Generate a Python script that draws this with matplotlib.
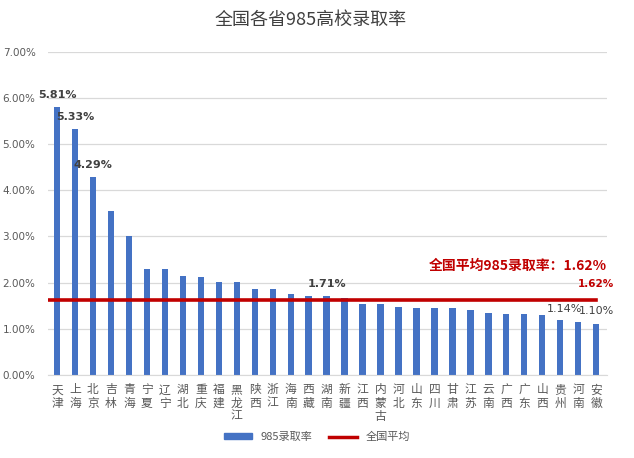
import matplotlib
matplotlib.use("Agg")
import matplotlib.pyplot as plt
from matplotlib.patches import Patch
from matplotlib.lines import Line2D

plt.rcParams['font.family'] = ['Noto Sans CJK SC', 'DejaVu Sans']

provinces = ["天津", "上海", "北京", "吉林", "青海", "宁夏", "辽宁", "湖北", "重庆", "福建",
             "黑龙江", "陕西", "浙江", "海南", "西藏", "湖南", "新疆", "江西", "内蒙古", "河北",
             "山东", "四川", "甘肃", "江苏", "云南", "广西", "广东", "山西", "贵州", "河南", "安徽"]
rates = [5.81, 5.33, 4.29, 3.56, 3.01, 2.30, 2.29, 2.14, 2.12, 2.01,
         2.01, 1.87, 1.87, 1.75, 1.72, 1.71, 1.67, 1.54, 1.53, 1.48,
         1.46, 1.46, 1.46, 1.41, 1.35, 1.33, 1.32, 1.29, 1.19, 1.14, 1.10]
national_avg = 1.62
yticks = [0, 1, 2, 3, 4, 5, 6, 7]

labeled_bold = {"天津": 5.81, "上海": 5.33, "北京": 4.29, "湖南": 1.71}
labeled_plain = {"河南": 1.14, "安徽": 1.10}

blue = "#4472C4"
red = "#C00000"
gray = "#595959"

fig = plt.figure(figsize=(6.34, 4.58), dpi=100)
ax = fig.add_axes([48/634, 1-375/458, (607-48)/634, (375-51.7)/458])

x = list(range(len(provinces)))
ax.bar(x, rates, width=0.35, color=blue, zorder=2)
ax.plot([-0.5, len(provinces)-1], [national_avg, national_avg], color=red, lw=2.6, zorder=3)

ax.set_ylim(0, 7)
ax.set_xlim(-0.5, len(provinces)-0.4)
ax.set_yticks(yticks)
ax.set_yticklabels([f"{v:.2f}%" for v in yticks], fontsize=7.5, color=gray, family=['DejaVu Sans'])
ax.yaxis.grid(True, color="#D9D9D9", lw=0.9, zorder=0)
ax.set_axisbelow(True)
ax.set_xticks(x)
ax.set_xticklabels(["\n".join(p) for p in provinces], fontsize=8.5, color=gray, linespacing=1.02, va='top')
ax.tick_params(axis='x', length=0, pad=6)
ax.tick_params(axis='y', length=0, pad=9)
for s in ["top", "right", "left"]:
    ax.spines[s].set_visible(False)
ax.spines["bottom"].set_color("#D9D9D9")

for i, (p, v) in enumerate(zip(provinces, rates)):
    if p in labeled_bold:
        ax.annotate(f"{v:.2f}%", (i, v), xytext=(0, 5), textcoords="offset points",
                    ha="center", va="bottom", fontsize=8, fontweight="bold", color="#404040",
                    family=['DejaVu Sans'])
    if p in labeled_plain:
        dx = -10 if p == "河南" else 0
        ax.annotate(f"{v:.2f}%", (i, v), xytext=(dx, 6), textcoords="offset points",
                    ha="center", va="bottom", fontsize=8, color="#404040",
                    family=['DejaVu Sans'])

ax.annotate(f"{national_avg:.2f}%", (len(provinces)-1, national_avg), xytext=(0, 8),
            textcoords="offset points", ha="center", va="bottom", fontsize=7.5,
            fontweight="bold", color=red, family=['DejaVu Sans'])
fig.text(607/634, 1-266/458, f"全国平均985录取率：{national_avg:.2f}%", ha="right", va="center",
         fontsize=10, fontweight="bold", color=red)

fig.text(0.49, 1-20/458, "全国各省985高校录取率", ha="center", va="center",
         fontsize=13, color="#404040")

handles = [Patch(color=blue), Line2D([0], [0], color=red, lw=2.5)]
fig.legend(handles, ["985录取率", "全国平均"], loc="center", bbox_to_anchor=(0.5, 1-437/458),
           ncol=2, frameon=False, fontsize=8, labelcolor=gray, handlelength=2.5,
           handleheight=0.5, columnspacing=1.5)

fig.savefig("out.png", dpi=100)
